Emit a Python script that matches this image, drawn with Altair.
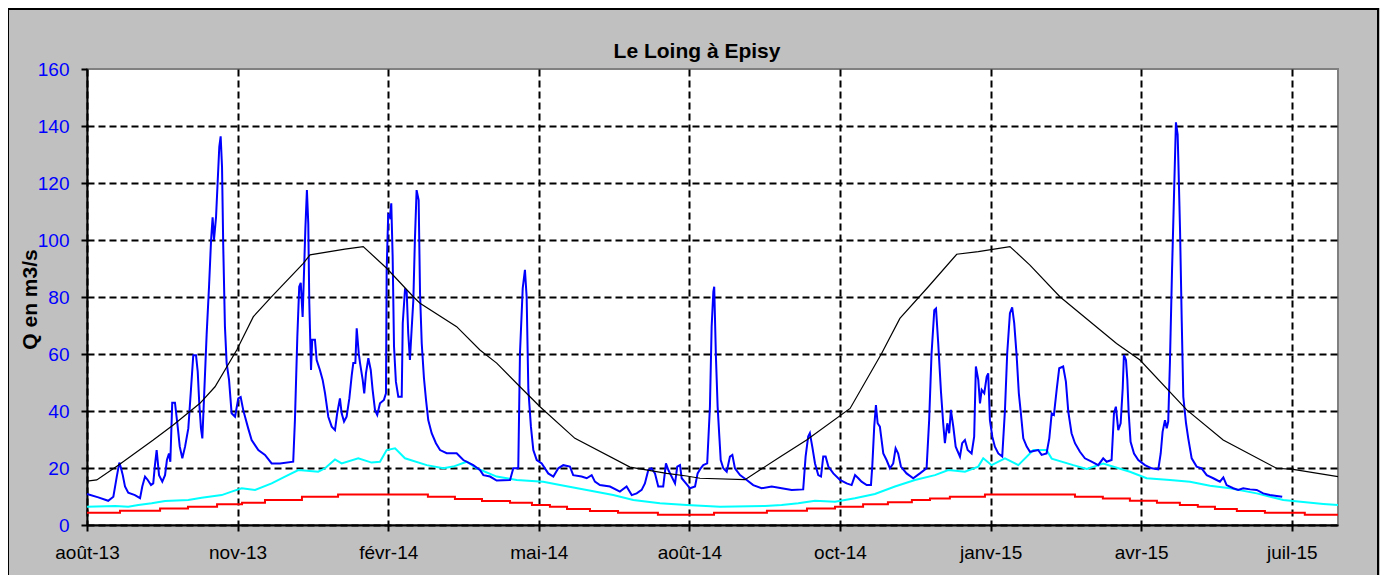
import json
import altair as alt
import pandas as pd

# ---------------- data (day index from mid-August 2013, Q in m3/s) ----------------
tick_days = [0, 88, 176, 264, 352, 440, 528, 616, 704]
tick_labels = ["août-13", "nov-13", "févr-14", "mai-14", "août-14", "oct-14", "janv-15", "avr-15", "juil-15"]
y_ticks = [0, 20, 40, 60, 80, 100, 120, 140, 160]

blue_day = [0, 6.6, 12.4, 15.4, 17.4, 18.9, 19.9, 20.9, 22.2, 24.1, 28.0, 31.0, 32.3, 33.9, 35.5, 37.4, 38.7, 39.7,
            40.7, 42.1, 44.0, 45.6, 46.7, 47.9, 48.7, 49.8, 51.4, 53.0, 54.2, 55.7, 57.3, 59.2, 60.8, 62.1, 63.7,
            64.7, 65.6, 66.6, 67.4, 68.5, 69.9, 71.3, 72.5, 73.4, 74.2, 75.4, 77.3, 78.1, 78.9, 79.6, 80.6, 81.6,
            83.0, 84.5, 86.5, 88.4, 89.8, 91.3, 94.2, 96.2, 100.1, 104.0, 107.9, 112.8, 120.5, 121.5, 122.9, 124.0,
            124.9, 126.0, 127.6, 128.5, 129.3, 129.9, 130.9, 131.6, 133.2, 134.2, 136.1, 137.7, 139.1, 141.0, 143.0,
            144.9, 146.2, 147.8, 148.8, 150.2, 151.7, 153.3, 154.7, 155.6, 156.8, 157.6, 158.8, 159.5, 161.1, 162.0,
            163.0, 164.4, 165.8, 166.9, 168.3, 169.6, 171.2, 173.5, 174.7, 175.1, 176.0, 177.0, 177.8, 178.6, 179.4,
            180.5, 181.9, 183.9, 184.5, 185.8, 186.8, 187.7, 188.7, 189.7, 190.7, 191.6, 192.6, 193.8, 194.6, 195.6,
            196.9, 198.1, 199.4, 201.4, 203.9, 206.3, 210.2, 216.0, 219.9, 225.7, 229.6, 231.6, 235.5, 239.4, 247.2,
            249.1, 252.0, 253.0, 254.6, 255.9, 256.9, 257.9, 259.4, 260.8, 262.8, 265.7, 269.5, 272.5, 275.4, 278.3,
            282.2, 284.1, 289.0, 292.0, 294.9, 296.8, 299.7, 305.6, 311.4, 315.3, 318.3, 321.2, 324.1, 326.0, 328.0,
            329.9, 331.9, 333.8, 336.7, 338.3, 339.7, 341.6, 343.6, 344.9, 346.5, 347.5, 350.0, 352.3, 355.3, 356.8,
            358.6, 360.1, 362.4, 364.0, 365.0, 366.0, 366.5, 367.5, 368.5, 369.5, 370.3, 371.8, 373.8, 375.7, 377.1,
            378.6, 381.6, 385.5, 389.3, 394.2, 400.1, 405.9, 411.8, 418.5, 419.9, 421.4, 422.4, 423.8, 425.4, 427.3,
            428.9, 430.2, 431.6, 433.2, 436.1, 440.0, 443.9, 446.8, 448.8, 450.7, 452.6, 455.6, 458.1, 458.9, 460.0,
            461.0, 462.0, 463.3, 465.3, 467.2, 469.2, 471.1, 472.5, 474.0, 475.6, 478.9, 482.8, 486.7, 490.6, 492.1,
            493.5, 495.1, 496.1, 497.4, 499.0, 500.3, 501.3, 502.7, 503.8, 504.8, 506.2, 507.6, 510.1, 511.4, 513.0,
            514.6, 516.9, 518.4, 519.4, 520.8, 521.8, 522.8, 524.3, 525.7, 526.6, 527.6, 529.0, 530.5, 532.5, 534.8,
            536.4, 537.7, 539.3, 540.6, 541.8, 543.2, 544.5, 545.7, 547.1, 549.1, 551.0, 555.8, 557.8, 560.7, 562.3,
            563.7, 565.0, 566.6, 568.1, 570.4, 572.0, 573.4, 575.3, 577.3, 580.2, 583.1, 587.0, 590.9, 593.8, 595.8,
            598.7, 600.1, 601.2, 602.6, 604.0, 605.2, 605.9, 607.1, 607.9, 608.7, 609.8, 611.8, 614.3, 618.2, 622.1,
            626.0, 627.4, 628.5, 629.9, 630.9, 631.8, 632.8, 634.0, 635.1, 636.3, 637.3, 637.7, 638.7, 639.7, 640.6,
            642.2, 643.5, 645.5, 648.4, 651.3, 654.3, 658.1, 662.0, 664.0, 665.9, 669.8, 672.7, 675.6, 679.6, 683.5,
            687.3, 691.2, 695.2, 698.4]
blue_q = [10.9, 9.7, 8.5, 9.9, 17, 21.9, 19.9, 17.5, 13.5, 11.3, 10.5, 9.4, 13.5, 17, 15.8, 14, 14.6, 21,
          26.3, 17.5, 15.2, 17.5, 22.8, 25.1, 22.2, 42.9, 42.9, 34.5, 27.5, 23.4, 27.5, 33.9, 48, 59.6, 59.6,
          53.8, 42.7, 33.9, 30.4, 46.2, 66.7, 83.6, 100, 108, 100, 108, 132.7, 136.4, 125.7, 98.2, 69.6, 56.8,
          50.9, 39.2, 38, 44.4, 44.9, 40.3, 33.9, 29.8, 26.3, 24.6, 21.6, 21.6, 22.2, 36.8, 66, 83.6,
          85, 73, 104, 117.5, 105.8, 77.8, 54.4, 65, 65, 57.9, 54.4, 50.9, 46.2, 38, 34.5,
          33.3, 39.2, 44.4, 39.2, 36.3, 38, 44.4, 52.6, 56.8, 56.8, 69, 60.2, 57, 50.9, 46.2,
          53.2, 58.5, 54.4, 47.4, 40.3, 38.6, 42.7, 43.9, 46.2, 89.5, 108.8, 108, 112.9, 94.2, 62.6,
          50.3, 45, 45, 70.8, 82.5, 82, 67.3, 57.9, 68.7, 79, 100, 117.5, 114, 81.3, 63.7,
          51.5, 43.9, 36.8, 32.2, 28.7, 26.3, 25.2, 25.2, 22.8, 21, 19.3, 17.5, 17, 15.6, 15.8,
          19.9, 19.9, 60.2, 83, 89.5, 80, 47.4, 34.5, 26.3, 22.8, 21.6, 18.1, 17, 19.9, 21,
          20.5, 17.5, 17, 16.4, 17.5, 15.2, 14, 13.5, 11.7, 13.5, 10.5, 11.1, 12.3, 14.6, 19.3,
          19.9, 18.1, 13.5, 13.5, 21.6, 19.3, 17, 14.6, 20.5, 21, 16.4, 14.6, 12.9, 13.5, 18.1,
          19.9, 21, 21.6, 41.5, 69.6, 81.9, 83.6, 59, 41.5, 31, 22.8, 19.9, 18.7, 24, 24.6,
          19.9, 17.5, 15.8, 14, 12.9, 13.5, 12.9, 12.3, 12.5, 24, 31, 32.2, 27.5, 21.6, 17.5,
          17, 24, 24, 20.5, 18.1, 15.8, 14.6, 14, 17.5, 16.4, 15.2, 14, 14, 21, 34.5,
          42.1, 35.7, 34.5, 25.1, 22.8, 19.9, 21.6, 26.9, 25.1, 20.5, 18.1, 16.4, 18.1, 19.9, 36.8,
          60.2, 75.4, 76, 63.7, 46.8, 35.7, 28.7, 35.7, 32.2, 40.4, 34.5, 27.5, 24, 28.7, 29.8,
          26.3, 25.1, 31, 55.6, 50.9, 42.7, 47.4, 46.2, 52, 53.2, 36.8, 31, 27.5, 25.1, 24,
          40.4, 60.2, 74.3, 76.4, 70.8, 59.6, 46.2, 39.2, 30.4, 27.5, 25.7, 26.3, 24.6, 25.1, 30.4,
          39.2, 38.6, 47.4, 55, 55.6, 50.3, 39.8, 32.2, 28.7, 25.7, 23.4, 22.2, 21, 23.4, 22.2,
          22.8, 39.2, 41.5, 33.3, 35.7, 48, 59.6, 57.9, 50.9, 39.2, 29.2, 25.1, 22.8, 21, 19.9,
          19.5, 25.1, 32.7, 36.8, 33.9, 36.3, 57.3, 88.9, 114, 141.3, 137, 128, 103.5, 71.3, 45,
          35.7, 30.4, 23.4, 20.5, 19.9, 17.5, 16.4, 15.2, 16.7, 14, 12.9, 12.3, 12.9, 12.5, 12.3,
          11.1, 10.5, 10.2, 9.9]

black_day = [0, 5.7, 18.3, 38.7, 50.4, 66.0, 74.8, 87.5, 97.2, 107.9, 126.4, 130.3, 150.7, 161.4, 175.1, 190.7,
             194.6, 216.0, 229.6, 239.4, 253.0, 264.7, 285.1, 317.3, 338.7, 350.4, 358.2, 384.5, 404.9, 420.5,
             445.9, 464.3, 475.0, 491.6, 508.2, 520.8, 539.3, 551.0, 568.5, 601.6, 615.3, 642.6, 663.9, 695.1,
             704.8, 731.0]
black_q = [15.4, 15.8, 21, 29.8, 35.1, 42.7, 48.5, 61.4, 73.1, 80.1, 91.8, 94.8, 96.8, 97.7, 90.1, 80.1,
           77.8, 69.6, 61.4, 56.8, 48.5, 41.5, 30.4, 20.3, 18.1, 17.2, 16.4, 15.9, 23.9, 29.8,
           40.9, 60.2, 72.5, 83.6, 95, 95.9, 97.7, 91.2, 80.1, 63.7, 57.9, 40.4, 29.8, 19.9,
           19.5, 17]

cyan_day = [0, 16.4, 24.1, 30.0, 37.8, 45.6, 59.2, 67.0, 78.7, 84.5, 90.4, 98.2, 107.9, 115.7, 123.5, 135.1,
            139.1, 144.9, 148.8, 158.5, 166.3, 171.2, 175.1, 180.0, 185.8, 198.5, 208.2, 214.0, 221.9, 227.7,
            239.4, 251.1, 266.6, 276.4, 292.0, 307.5, 319.2, 334.8, 350.4, 369.9, 396.2, 405.9, 415.6, 425.4,
            437.1, 448.7, 460.4, 472.1, 483.8, 495.5, 503.3, 513.0, 520.8, 523.7, 528.6, 536.4, 544.2, 553.0,
            560.7, 563.7, 576.3, 584.2, 593.8, 609.4, 619.2, 632.8, 644.5, 656.2, 667.9, 683.5, 699.0, 722.4,
            731.0]
cyan_q = [6.4, 6.7, 6.4, 7, 7.6, 8.4, 8.8, 9.6, 10.5, 11.7, 12.9, 12.3, 14.6, 17, 19.3, 18.7,
          19.9, 23, 21.6, 23.4, 21.9, 22.2, 26.3, 26.9, 23.4, 21, 19.9, 20.5, 22.2, 19.9,
          17, 15.8, 15.2, 14, 12.3, 10.5, 8.8, 7.6, 7, 6.4, 6.7, 7, 7.6, 8.5,
          8.2, 9.4, 10.9, 13.5, 15.8, 17.5, 19.3, 18.7, 20.5, 23.4, 21, 23.4, 21, 26.3,
          26.3, 23.3, 21, 19.7, 21.6, 18.7, 16.4, 15.8, 15.2, 13.8, 12.9, 11.1, 8.8, 7.4,
          7]

red_day = [0, 19.3, 42.7, 59.0, 76.0, 90.6, 104.0, 125.6, 146.7, 199.2, 215.0, 230.8, 247.2, 260.0, 270.5,
           280.5, 293.9, 310.3, 333.6, 366.4, 397.3, 420.7, 437.1, 453.5, 468.0, 482.0, 492.6, 504.2, 524.7,
           577.3, 593.6, 609.4, 625.2, 638.6, 649.1, 659.1, 671.9, 688.3, 711.6, 731.0]
red_q = [4.3, 5.0, 5.8, 6.4, 7.3, 7.8, 8.8, 9.9, 10.7, 9.9, 9.1, 8.4, 7.8, 7.0, 6.4,
         5.6, 4.9, 4.3, 3.6, 4.3, 5.0, 5.8, 6.4, 7.3, 8.0, 8.8, 9.3, 9.9, 10.7,
         9.9, 9.3, 8.5, 7.8, 7.0, 6.4, 5.6, 4.9, 4.3, 3.6, 3.6]

title_text = "Le Loing à Episy"
y_title = "Q en m3/s"

# ---------------- chart ----------------
FONT = "Liberation Sans"
W, H = 1251, 456

label_expr = "{}[indexof({}, datum.value)]".format(
    json.dumps(tick_labels, ensure_ascii=False), json.dumps(tick_days))

x_axis = alt.Axis(values=tick_days, labelExpr=label_expr, title=None, grid=True,
                  gridColor="black", gridDash=[7, 4], gridWidth=2,
                  domainColor="black", domainWidth=2, tickColor="black", tickWidth=2, tickSize=6,
                  labelFont=FONT, labelFontSize=19, labelColor="black", labelPadding=12,
                  labelFlush=False, labelOverlap=False)
y_axis = alt.Axis(values=y_ticks, title=y_title, grid=True,
                  gridColor="black", gridDash=[7, 4], gridWidth=2,
                  gridOpacity=alt.condition("datum.value == 160", alt.value(0), alt.value(1)),
                  domainColor="black", domainWidth=2, tickColor="black", tickWidth=2, tickSize=6,
                  labelFont=FONT, labelFontSize=19, labelColor="#0000ff", labelPadding=12,
                  titleFont=FONT, titleFontSize=21, titleFontWeight="bold", titleColor="black",
                  titleX=-57, titleY=H / 2 + 2, titleAngle=270, titleAlign="center", titleBaseline="middle")

x_scale = alt.Scale(domain=[0, 731], nice=False, zero=False)
y_scale = alt.Scale(domain=[0, 160], nice=False)


def series(days, qs, color, width, interp="linear"):
    df = pd.DataFrame({"day": days, "q": qs})
    return alt.Chart(df).mark_line(color=color, strokeWidth=width, interpolate=interp).encode(
        x=alt.X("day:Q", scale=x_scale, axis=x_axis),
        y=alt.Y("q:Q", scale=y_scale, axis=y_axis),
    )


deco = alt.Data(values=[{"t": title_text}])

border = alt.Chart(deco).mark_rect(fillOpacity=0, stroke="black", strokeWidth=2).encode(
    x=alt.value(-79), x2=alt.value(W + 40), y=alt.value(-60), y2=alt.value(H + 80))

title_mark = alt.Chart(deco).mark_text(font=FONT, fontSize=21, fontWeight="bold", color="black",
                                       align="center", baseline="middle").encode(
    x=alt.value(610), y=alt.value(-17), text="t:N")

chart = alt.layer(
    series(cyan_day, cyan_q, "#00ffff", 2),
    series(red_day, red_q, "#ff0000", 2, "step-after"),
    series(blue_day, blue_q, "#0000ff", 2),
    series(black_day, black_q, "#000000", 1.2),
    border,
    title_mark,
).properties(
    width=W, height=H,
    autosize=alt.AutoSizeParams(type="none"),
    padding={"left": 79, "top": 61, "right": 42, "bottom": 50},
    background="#c0c0c0",
).configure_view(fill="white", stroke="#808080", strokeWidth=2)

chart.save("out.html", embed_options={"renderer": "svg", "actions": False})
